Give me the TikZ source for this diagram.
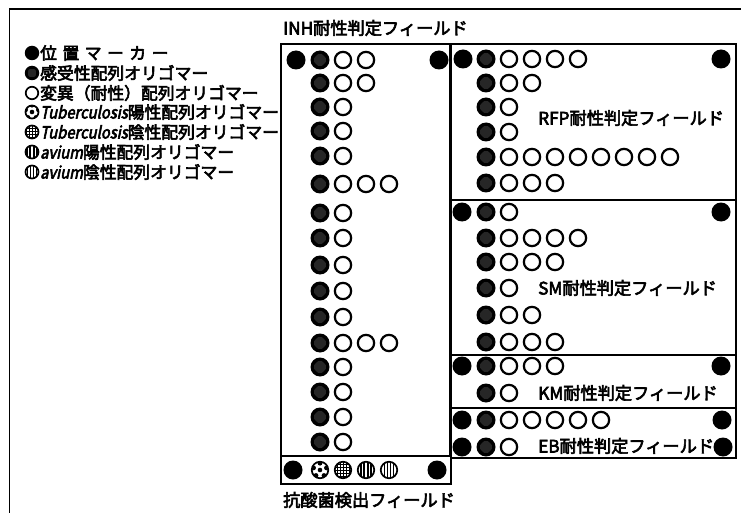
\documentclass[tikz,border=0pt]{standalone}
\usepackage{fontspec}
\setmainfont{Noto Sans CJK JP}[FakeBold=3.5]
\newfontfamily\itfont{Noto Sans CJK JP}[FakeSlant=0.2,FakeStretch=0.88,FakeBold=3.5]
\usetikzlibrary{patterns}
\newcommand\orow[4]{% x, y, number of mutants, name prefix
  \node[sens] (#4s) at (#1,#2) {};
  \foreach \k in {1,...,#3} \node[mut] (#4m\k) at ({#1+23*\k},#2) {};
}
\begin{document}
\begin{tikzpicture}[x=1pt,y=-1pt,
  mk/.style={circle, fill=black, minimum size=19pt, inner sep=0pt},
  sens/.style={circle, fill=black, minimum size=19pt, inner sep=0pt,
    path picture={\begin{scope}
      \clip (path picture bounding box.center) circle (#1);
      \foreach \u in {-5,-3,...,5} \foreach \v in {-5,-3,...,5}
        \fill[gray!70, shift={(path picture bounding box.center)}] (\u pt,\v pt) circle (0.6pt);
      \end{scope}}},
  sens/.default=5.8pt,
  mut/.style={circle, draw=black, line width=2.2pt, fill=white, minimum size=16.3pt, inner sep=0pt},
  ring/.style={circle, draw=black, line width=1.7pt, fill=white, minimum size=16.5pt, inner sep=0pt},
  tbpos/.style={ring, path picture={
    \fill[black] (path picture bounding box.center) circle (2.3pt);
    \foreach \a in {90,162,234,306,18} \fill[black, shift={(path picture bounding box.center)}] (\a:6.8pt) circle (2.4pt);}},
  tbneg/.style={ring, path picture={
    \foreach \i in {-6,-3,0,3,6} {
      \draw[black, line width=1pt] ([xshift=\i pt]path picture bounding box.north) -- ([xshift=\i pt]path picture bounding box.south);
      \draw[black, line width=1pt] ([yshift=\i pt]path picture bounding box.west) -- ([yshift=\i pt]path picture bounding box.east);}}},
  avpos/.style={ring, path picture={
    \foreach \i in {-5.2,-1.8,1.8,5.2}
      \draw[black, line width=1.6pt] ([xshift=\i pt]path picture bounding box.north) -- ([xshift=\i pt]path picture bounding box.south);}},
  avneg/.style={ring, path picture={
    \foreach \i in {-4.5,-1.5,1.5,4.5}
      \draw[black, line width=0.9pt] ([xshift=\i pt]path picture bounding box.north) -- ([xshift=\i pt]path picture bounding box.south);}},
  field/.style={draw=black, line width=1.3pt},
  lbl/.style={anchor=west, inner sep=0pt, font=\fontsize{17.2pt}{17pt}\selectfont},
  leg/.style={anchor=west, inner sep=0pt, font=\fontsize{16.8pt}{17pt}\selectfont},
]
\useasboundingbox (0,0) rectangle (741,513);
\fill[white] (0,0) rectangle (741,513);
% outer frame
\draw[line width=1.3pt] (741,9) -- (9.5,9) -- (9.5,513);

% legend
\node[mk, minimum size=14.5pt] (l1) at (32,53) {};
\node[leg] (t1) at (40,53) {位\kern5.5pt 置\kern5.5pt マ\kern5.5pt ー\kern5.5pt カ\kern5.5pt ー};
\node[sens=4.4pt, minimum size=14.5pt] (l2) at (32,73) {};
\node[leg] (t2) at (40,73) {感受性配列オリゴマー};
\node[mut, minimum size=12.5pt, line width=1.7pt] (l3) at (32,93) {};
\node[leg] (t3) at (40,93) {変異（耐性）配列オリゴマー};
\node[tbpos, minimum size=13pt] (l4) at (32,112) {};
\node[leg] (t4) at (40,112) {{\itfont Tuberculosis}陽性配列オリゴマー};
\node[tbneg, minimum size=13pt] (l5) at (32,132) {};
\node[leg] (t5) at (40,132) {{\itfont Tuberculosis}陰性配列オリゴマー};
\node[avpos, minimum size=13pt] (l6) at (32,152) {};
\node[leg] (t6) at (40,152) {{\itfont avium}陽性配列オリゴマー};
\node[avneg, minimum size=13pt] (l7) at (32,172) {};
\node[leg] (t7) at (40,172) {{\itfont avium}陰性配列オリゴマー};

% fields
\draw[field] (281,44) rectangle (450,456);
\draw[field, line width=1.6pt] (281,456) rectangle (451,484);
\draw[field] (451,44) rectangle (736,200);
\draw[field] (451,200) rectangle (736,355);
\draw[field] (451,355) rectangle (736,408);
\draw[field] (451,408) rectangle (736,458);

% field labels
\node[lbl] (inhl) at (283,28) {INH耐性判定フィールド};
\node[lbl] (rfpl) at (538,118) {RFP耐性判定フィールド};
\node[lbl] (sml) at (538,288) {SM耐性判定フィールド};
\node[lbl] (kml) at (538,393) {KM耐性判定フィールド};
\node[lbl] (ebl) at (538,446) {EB耐性判定フィールド};
\node[lbl] (afl) at (283,500) {抗酸菌検出フィールド};

% INH field
\node[mk] (inhL) at (296,60) {};
\node[mk] (inhR) at (439,60) {};
\orow{320}{60}{2}{i1}
\orow{320}{83}{2}{i2}
\orow{320}{107}{1}{i3}
\orow{320}{131}{1}{i4}
\orow{320}{156}{1}{i5}
\orow{320}{184}{3}{i6}
\orow{320}{213}{1}{i7}
\orow{320}{238}{1}{i8}
\orow{320}{265}{1}{i9}
\orow{320}{291}{1}{i10}
\orow{320}{317}{1}{i11}
\orow{320}{343}{3}{i12}
\orow{320}{367}{1}{i13}
\orow{320}{392}{1}{i14}
\orow{320}{417}{1}{i15}
\orow{320}{442}{1}{i16}

% acid-fast detection field
\node[mk] (afL) at (293,470) {};
\node[tbpos] (af1) at (320,470) {};
\node[tbneg] (af2) at (343,470) {};
\node[avpos] (af3) at (366,470) {};
\node[avneg] (af4) at (389,470) {};
\node[mk] (afR) at (437,470) {};

% RFP field
\node[mk] (rfpL) at (463,59) {};
\node[mk] (rfpR) at (721,59) {};
\orow{486}{59}{4}{r1}
\orow{486}{83}{2}{r2}
\orow{486}{107}{1}{r3}
\orow{486}{132}{1}{r4}
\orow{486}{157}{8}{r5}
\orow{486}{183}{3}{r6}

% SM field
\node[mk] (smL) at (462,212) {};
\node[mk] (smR) at (721,212) {};
\orow{486}{212}{1}{s1}
\orow{486}{238}{4}{s2}
\orow{486}{262}{3}{s3}
\orow{486}{288}{1}{s4}
\orow{486}{315}{2}{s5}
\orow{486}{342}{3}{s6}

% KM field
\node[mk] (kmL) at (462,366) {};
\node[mk] (kmR) at (721,366) {};
\orow{486}{366}{3}{k1}
\orow{486}{393}{1}{k2}

% EB field
\node[mk] (ebL1) at (462,420) {};
\node[mk] (ebR1) at (722,420) {};
\orow{486}{420}{5}{e1}
\node[mk] (ebL2) at (462,447) {};
\node[mk] (ebR2) at (723,447) {};
\orow{486}{447}{1}{e2}
\end{tikzpicture}
\end{document}
